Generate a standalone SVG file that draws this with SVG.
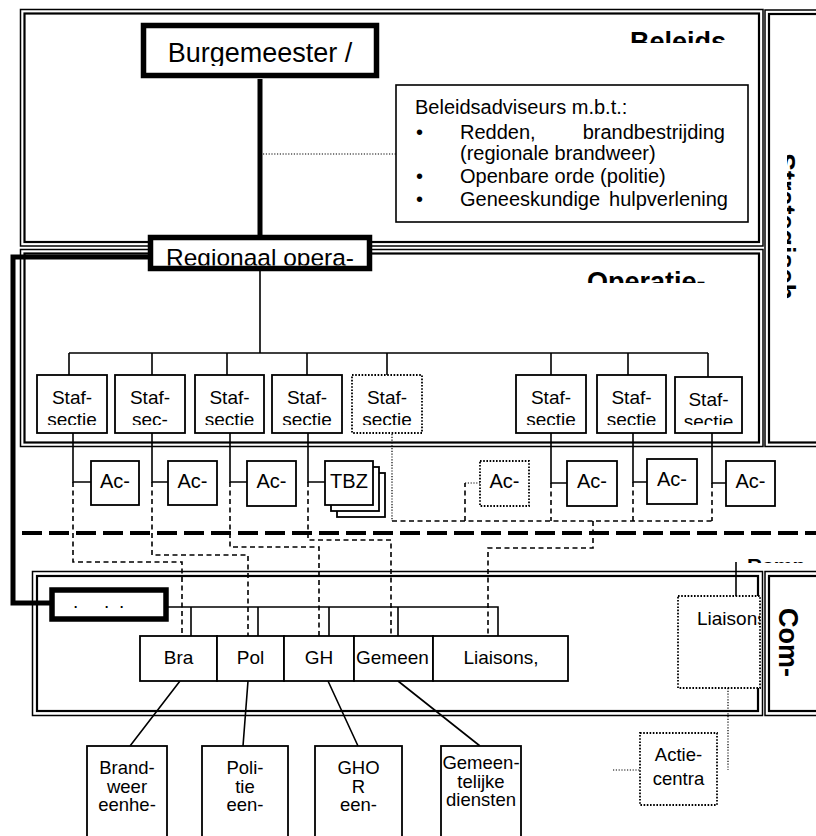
<svg xmlns="http://www.w3.org/2000/svg" width="816" height="836" viewBox="0 0 816 836">
<defs>
<style>
text{font-family:"Liberation Sans",Arial,sans-serif;fill:#000}
.frO{fill:none;stroke:#000;stroke-width:1.5}
.frI{fill:none;stroke:#000;stroke-width:2.2}
.box{fill:#fff;stroke:#000;stroke-width:1.8}
.dbox{fill:#fff;stroke:#000;stroke-width:1.8;stroke-dasharray:1.6 1.6}
.thk{fill:#fff;stroke:#000;stroke-width:5.5}
.ln{fill:none;stroke:#000;stroke-width:1.6}
.tl{fill:none;stroke:#000;stroke-width:5}
.ds{fill:none;stroke:#000;stroke-width:1.6;stroke-dasharray:5 3.5}
.dt{fill:none;stroke:#000;stroke-width:1.2;stroke-dasharray:1.2 1.6}
.bigds{fill:none;stroke:#000;stroke-width:4;stroke-dasharray:20 7}
.c19{font-size:19px;text-anchor:middle}
.c20{font-size:20px;text-anchor:middle}
.u{font-size:18.5px;text-anchor:middle}
.t20{font-size:20px}
.lbl{font-weight:bold;font-size:27px}
</style>
<clipPath id="cBel"><rect x="0" y="0" width="816" height="43"/></clipPath>
<clipPath id="cOp"><rect x="0" y="250" width="816" height="33"/></clipPath>
<clipPath id="cBurg"><rect x="140" y="20" width="240" height="46"/></clipPath>
<clipPath id="cReg"><rect x="140" y="230" width="240" height="35.5"/></clipPath>
<clipPath id="cAdv"><rect x="396" y="85" width="352" height="127"/></clipPath>
<clipPath id="cStaf"><rect x="0" y="370" width="816" height="55"/></clipPath>
<clipPath id="cGem"><rect x="354" y="636" width="79" height="45"/></clipPath>
<clipPath id="cLia"><rect x="678" y="596" width="82" height="92"/></clipPath>
<clipPath id="cRamp"><rect x="700" y="540" width="116" height="23"/></clipPath>
<clipPath id="cVert"><rect x="787" y="20" width="29" height="420"/></clipPath>
</defs>

<g id="frames">
  <g id="frame-beleids">
    <rect class="frO" x="20.5" y="9.5" width="742.5" height="236.5"/>
    <rect class="frI" x="24.5" y="13.5" width="734.5" height="228.5"/>
  </g>
  <g id="frame-operatie">
    <rect class="frO" x="20.5" y="249.5" width="742.5" height="197"/>
    <rect class="frI" x="24.5" y="253.5" width="734.5" height="189"/>
  </g>
  <g id="frame-right-top">
    <rect class="frO" x="765" y="10" width="70" height="436.5"/>
    <rect class="frI" x="769" y="14" width="62" height="428.5"/>
  </g>
  <g id="frame-com">
    <rect class="frO" x="32.5" y="571.5" width="730" height="144"/>
    <rect class="frI" x="37" y="576" width="721" height="135"/>
  </g>
  <g id="frame-com-right">
    <rect class="frO" x="765" y="571.5" width="70" height="144"/>
    <rect class="frI" x="769" y="576" width="62" height="135"/>
  </g>
</g>

<g id="labels">
  <g clip-path="url(#cBel)"><text class="lbl" x="630" y="51">Beleids</text></g>
  <g clip-path="url(#cOp)"><text class="lbl" x="587" y="291">Operatie-</text></g>
  <g clip-path="url(#cVert)"><text class="lbl" transform="translate(776,153) rotate(90)">Strategisch</text></g>
  <text class="lbl" transform="translate(779,608) rotate(90)">Com-</text>
  <g clip-path="url(#cRamp)"><text x="747" y="573" style="font-weight:bold;font-size:21px">Ramp</text></g>
</g>

<g id="connectors">
  <path class="tl" d="M260 79 V236"/>
  <path class="tl" d="M150 257 H13 V603 H52"/>
  <path class="dt" d="M263 154 H396"/>
  <path class="ln" d="M260 270 V353 M69 353 H708 M69 353 V375 M152 353 V375 M227 353 V375 M307 353 V375 M387 353 V375 M551 353 V375 M628 353 V375 M708 353 V377"/>
  <path class="ln" d="M73 433 V482 H91 M152 433 V482 H168 M230 433 V482 H247 M308 433 V482 H325 M551 433 V483 H567 M633 433 V482 H647 M712 433 V483 H726"/>
  <path class="ds" d="M73 482 V562 H182 V636 M152 482 V555 H248 V636 M230 482 V547 H319 V636 M308 482 V540 H391 V636"/>
  <path class="dt" d="M392 434 V521 M465 483 H480"/>
  <path class="ds" d="M392 521 H712 M465 521 V483 M551 483 V521 M633 482 V521 M712 483 V521 M593 521 V548 H488 V636"/>
  <path class="bigds" d="M22 533 H816"/>
  <path class="ln" d="M168 607 H498 V636 M191 607 V636 M258 607 V636 M329 607 V636 M398 607 V636"/>
  <path class="ln" d="M180 681 L130 746 M248 681 L243 746 M328 681 L358 746 M398 681 L480 746"/>
  <path class="ln" d="M736 562 V596"/>
  <path class="dt" d="M728 688 V770 M613 770 H640"/>
</g>

<g id="burgemeester">
  <rect class="thk" x="143.5" y="25.5" width="233" height="50"/>
  <g clip-path="url(#cBurg)"><text x="260" y="62" style="font-size:27px;text-anchor:middle">Burgemeester /</text></g>
</g>

<g id="beleidsadviseurs">
  <rect x="396" y="85" width="352" height="137" fill="#fff" stroke="#000" stroke-width="1.6"/>
  <g clip-path="url(#cAdv)">
    <text class="t20" x="415" y="114">Beleidsadviseurs m.b.t.:</text>
    <text class="t20" x="416" y="139">•</text>
    <text class="t20" x="460" y="139">Redden,</text>
    <text class="t20" x="725" y="139" text-anchor="end">brandbestrijding</text>
    <text class="t20" x="460" y="160">(regionale brandweer)</text>
    <text class="t20" x="416" y="183">•</text>
    <text class="t20" x="460" y="183">Openbare orde (politie)</text>
    <text class="t20" x="416" y="206">•</text>
    <text class="t20" x="460" y="206">Geneeskundige</text>
    <text class="t20" x="728" y="206" text-anchor="end">hulpverlening</text>
  </g>
</g>

<g id="regionaal">
  <rect class="thk" x="150.5" y="237.5" width="219" height="31"/>
  <g clip-path="url(#cReg)"><text x="260" y="266" style="font-size:24.5px;text-anchor:middle">Regionaal opera-</text></g>
</g>

<g id="staf-secties">
  <g id="staf1"><rect class="box" x="37" y="375" width="70" height="58"/></g>
  <g id="staf2"><rect class="box" x="115" y="375" width="70" height="58"/></g>
  <g id="staf3"><rect class="box" x="195" y="375" width="69" height="58"/></g>
  <g id="staf4"><rect class="box" x="272" y="375" width="70" height="58"/></g>
  <g id="staf5"><rect class="dbox" x="352" y="375" width="70" height="58"/></g>
  <g id="staf6"><rect class="box" x="516" y="375" width="70" height="58"/></g>
  <g id="staf7"><rect class="box" x="597" y="375" width="69" height="58"/></g>
  <g id="staf8"><rect class="box" x="675" y="377" width="67" height="56"/></g>
  <g clip-path="url(#cStaf)">
    <text class="c19" x="72" y="404">Staf-</text><text class="c19" x="72" y="426">sectie</text>
    <text class="c19" x="150" y="404">Staf-</text><text class="c19" x="150" y="426">sec-</text>
    <text class="c19" x="229.5" y="404">Staf-</text><text class="c19" x="229.5" y="426">sectie</text>
    <text class="c19" x="307" y="404">Staf-</text><text class="c19" x="307" y="426">sectie</text>
    <text class="c19" x="387" y="404">Staf-</text><text class="c19" x="387" y="426">sectie</text>
    <text class="c19" x="551" y="404">Staf-</text><text class="c19" x="551" y="426">sectie</text>
    <text class="c19" x="631.5" y="404">Staf-</text><text class="c19" x="631.5" y="426">sectie</text>
    <text class="c19" x="708.5" y="406">Staf-</text><text class="c19" x="708.5" y="428">sectie</text>
  </g>
</g>

<g id="actiecentra-row">
  <g id="ac1"><rect class="box" x="91" y="461" width="48" height="44"/><text class="c20" x="115" y="488">Ac-</text></g>
  <g id="ac2"><rect class="box" x="168" y="461" width="49" height="44"/><text class="c20" x="192.5" y="488">Ac-</text></g>
  <g id="ac3"><rect class="box" x="247" y="461" width="49" height="45"/><text class="c20" x="271.5" y="488">Ac-</text></g>
  <g id="tbz">
    <rect class="box" x="337" y="473" width="48" height="44"/>
    <rect class="box" x="331" y="467" width="48" height="44"/>
    <rect class="box" x="325" y="461" width="48" height="44"/>
    <text class="c20" x="349" y="488">TBZ</text>
  </g>
  <g id="ac5"><rect class="dbox" x="480" y="461" width="49" height="45"/><text class="c20" x="504.5" y="488">Ac-</text></g>
  <g id="ac6"><rect class="box" x="567" y="461" width="50" height="45"/><text class="c20" x="592" y="488">Ac-</text></g>
  <g id="ac7"><rect class="box" x="647" y="459" width="50" height="45"/><text class="c20" x="672" y="486">Ac-</text></g>
  <g id="ac8"><rect class="box" x="726" y="461" width="49" height="45"/><text class="c20" x="750.5" y="488">Ac-</text></g>
</g>

<g id="dots-box">
  <rect class="thk" x="52" y="590" width="114" height="29"/>
  <text style="font-size:19px" x="73 104 119" y="608">...</text>
</g>

<g id="bottom-row">
  <g id="bra"><rect class="box" x="140" y="636" width="77" height="45"/><text class="c19" x="178.5" y="664">Bra</text></g>
  <g id="pol"><rect class="box" x="217" y="636" width="67" height="45"/><text class="c19" x="250.5" y="664">Pol</text></g>
  <g id="gh"><rect class="box" x="284" y="636" width="70" height="45"/><text class="c19" x="319" y="664">GH</text></g>
  <g id="gemeen"><rect class="box" x="354" y="636" width="79" height="45"/><g clip-path="url(#cGem)"><text style="font-size:19px" x="356" y="664">Gemeen</text></g></g>
  <g id="liaisons"><rect class="box" x="433" y="636" width="135" height="45"/><text class="c19" x="501" y="664">Liaisons,</text></g>
</g>

<g id="liaison-right">
  <rect class="dbox" x="678" y="596" width="82" height="92"/>
  <g clip-path="url(#cLia)"><text style="font-size:19px" x="697" y="625">Liaisons</text></g>
</g>

<g id="actiecentra">
  <rect class="dbox" x="640" y="733" width="77" height="72"/>
  <text class="u" x="678.5" y="761">Actie-</text>
  <text class="u" x="678.5" y="785">centra</text>
</g>

<g id="units">
  <g id="brandweer"><rect class="box" x="87" y="746" width="80" height="110"/>
    <text class="u" x="127" y="774">Brand-</text><text class="u" x="127" y="792.5">weer</text><text class="u" x="127" y="811">eenhe-</text></g>
  <g id="politie"><rect class="box" x="202" y="746" width="86" height="110"/>
    <text class="u" x="245" y="774">Poli-</text><text class="u" x="245" y="792.5">tie</text><text class="u" x="245" y="811">een-</text></g>
  <g id="ghor"><rect class="box" x="315" y="746" width="87" height="110"/>
    <text class="u" x="358.5" y="774">GHO</text><text class="u" x="358.5" y="792.5">R</text><text class="u" x="358.5" y="811">een-</text></g>
  <g id="gemeentelijk"><rect class="box" x="441" y="746" width="80" height="110"/>
    <text class="u" x="481" y="769">Gemeen-</text><text class="u" x="481" y="787.5">telijke</text><text class="u" x="481" y="806">diensten</text></g>
</g>
</svg>
